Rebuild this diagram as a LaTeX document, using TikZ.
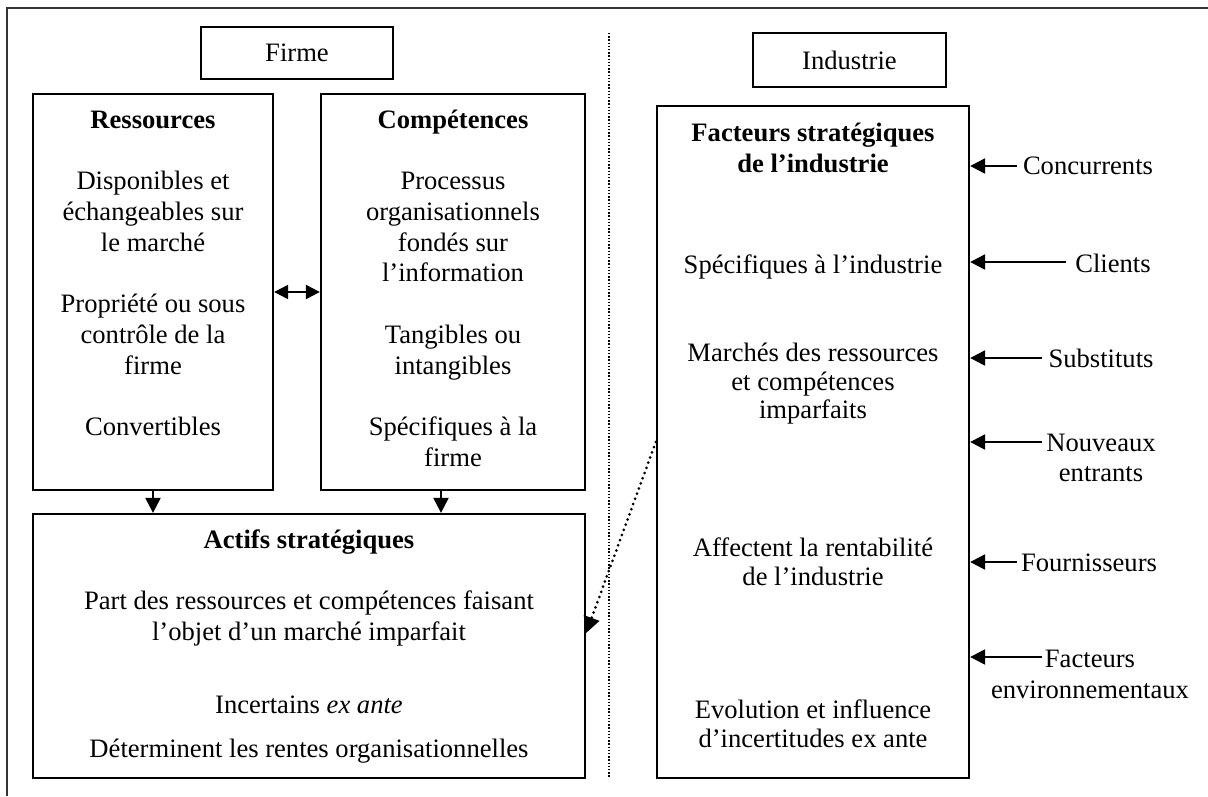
\documentclass[tikz,border=0pt]{standalone}
\usepackage{fontspec}
\setmainfont{Liberation Serif}
\usetikzlibrary{arrows.meta}
\begin{document}
\begin{tikzpicture}[x=1pt,y=-1pt,
  box/.style={draw, line width=2.3pt, rectangle, inner sep=0pt, anchor=center,
              font=\fontsize{26.6}{30.7}\selectfont},
  ln/.style={anchor=base, inner sep=0pt, font=\fontsize{26.6}{30.7}\selectfont},
  hd/.style={anchor=base, inner sep=0pt, font=\fontsize{26.6}{30.7}\selectfont\bfseries},
  solidarrow/.style={line width=2.3pt, -{Triangle[length=15pt,width=15pt]}},
  botharrow/.style={line width=2.3pt, {Triangle[length=14pt,width=14pt]}-{Triangle[length=14pt,width=14pt]}},
  dotarrow/.style={line width=3pt, line cap=round, dash pattern=on 0pt off 5.5pt,
                   -{Triangle[length=16pt,width=16pt]}},
  divider/.style={line width=1.6pt, dash pattern=on 1.4pt off 1.8pt}]
\useasboundingbox (0,0) rectangle (1208,796);

% outer frame (top and left edges)
\draw[line width=2.4pt, black!80] (7,796) -- (7,8) -- (1208,8);

% titles
\node[box, minimum width=192pt, minimum height=52pt] (firme) at (297,53) {Firme};
\node[box, minimum width=193pt, minimum height=54pt] (industrie) at (849.5,60) {Industrie};

% separator between firm and industry
\coordinate (sepT) at (609,33);
\coordinate (sepB) at (609,778);
\draw[divider] (sepT) -- (sepB);

% main boxes
\node[box, minimum width=240pt, minimum height=396pt] (res) at (153,292) {};
\node[box, minimum width=264pt, minimum height=396pt] (comp) at (453,292) {};
\node[box, minimum width=552pt, minimum height=264pt] (act) at (309,646) {};
\node[box, minimum width=312pt, minimum height=672pt] (fac) at (813,442) {};

% Ressources
\node[hd] (resT) at (153,128) {Ressources};
\node[ln] (res1) at (153,189) {Disponibles et};
\node[ln] (res2) at (153,220) {échangeables sur};
\node[ln] (res3) at (153,251) {le marché};
\node[ln] (res4) at (153,312) {Propriété ou sous};
\node[ln] (res5) at (153,343) {contrôle de la};
\node[ln] (res6) at (153,374) {firme};
\node[ln] (res7) at (153,435) {Convertibles};

% Compétences
\node[hd] (compT) at (453,128) {Compétences};
\node[ln] (comp1) at (453,189) {Processus};
\node[ln] (comp2) at (453,220) {organisationnels};
\node[ln] (comp3) at (453,251) {fondés sur};
\node[ln] (comp4) at (453,281) {l’information};
\node[ln] (comp5) at (453,343) {Tangibles ou};
\node[ln] (comp6) at (453,374) {intangibles};
\node[ln] (comp7) at (453,435) {Spécifiques à la};
\node[ln] (comp8) at (453,466) {firme};

% Actifs stratégiques
\node[hd] (actT) at (309,548) {Actifs stratégiques};
\node[ln] (act1) at (309,609) {Part des ressources et compétences faisant};
\node[ln] (act2) at (309,640) {l’objet d’un marché imparfait};
\node[ln] (act3) at (309,713) {Incertains \textit{ex ante}};
\node[ln] (act4) at (309,757) {Déterminent les rentes organisationnelles};

% Facteurs stratégiques de l'industrie
\node[hd] (facT1) at (813,141) {Facteurs stratégiques};
\node[hd] (facT2) at (813,172) {de l’industrie};
\node[ln] (fac1) at (813,273) {Spécifiques à l’industrie};
\node[ln] (fac2) at (813,361) {Marchés des ressources};
\node[ln] (fac3) at (813,390) {et compétences};
\node[ln] (fac4) at (813,418) {imparfaits};
\node[ln] (fac5) at (813,556) {Affectent la rentabilité};
\node[ln] (fac6) at (813,585) {de l’industrie};
\node[ln] (fac7) at (813,718) {Evolution et influence};
\node[ln] (fac8) at (813,747) {d’incertitudes ex ante};

% external forces
\node[ln] (conc) at (1088,174) {Concurrents};
\node[ln] (cli) at (1113,272) {Clients};
\node[ln] (sub) at (1101,367) {Substituts};
\node[ln] (nouv) at (1101,451) {Nouveaux};
\node[ln] (nouv2) at (1101,481) {entrants};
\node[ln] (four) at (1089,571) {Fournisseurs};
\node[ln] (env) at (1090,667) {Facteurs};
\node[ln] (env2) at (1090,698) {environnementaux};

\coordinate (cConc) at (1017,166);
\coordinate (cCli) at (1066,262);
\coordinate (cSub) at (1042,358);
\coordinate (cNouv) at (1042,442);
\coordinate (cFour) at (1017,562);
\coordinate (cEnv) at (1042,657);

\foreach \c in {cConc,cCli,cSub,cNouv,cFour,cEnv}
  \draw[solidarrow] (\c) -- (\c -| fac.east);

% links between boxes
\draw[botharrow] (res.east) -- (comp.west);
\draw[solidarrow] (res.south) -- (res.south |- act.north);
\draw[solidarrow] ([xshift=-12pt]comp.south) -- ([xshift=-12pt]comp.south |- act.north);
\draw[dotarrow] (fac.west) -- ([yshift=13pt]act.east);
\end{tikzpicture}
\end{document}
